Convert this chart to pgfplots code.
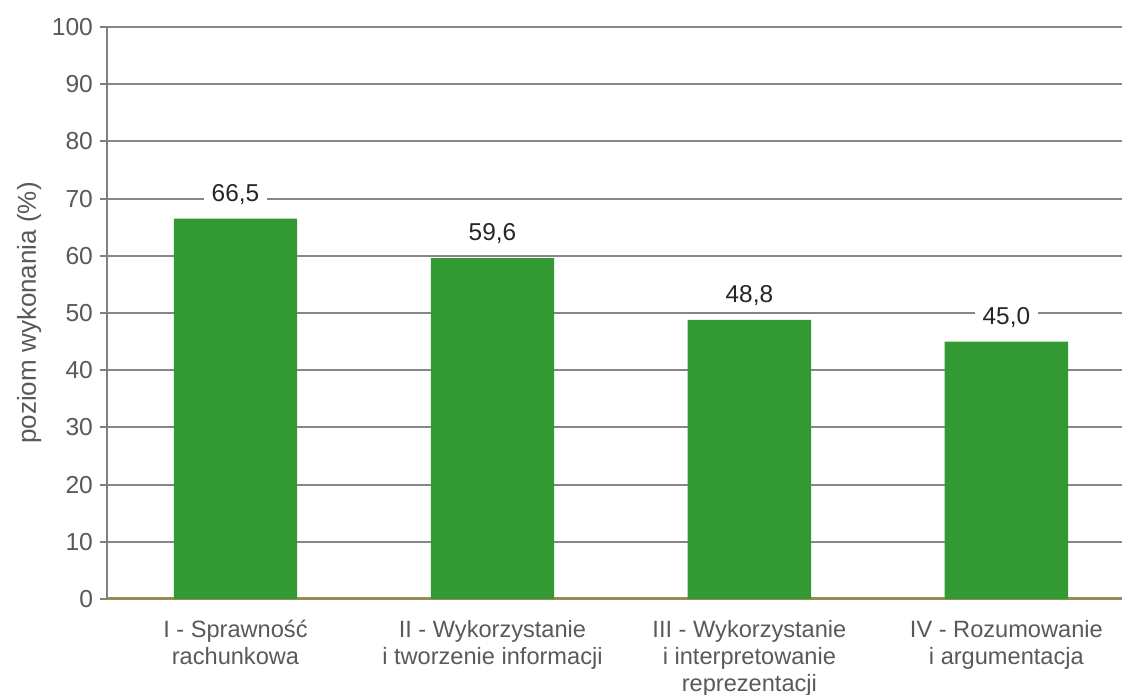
\documentclass[border=0pt]{standalone}
\usepackage{pgfplots}
\pgfplotsset{compat=1.18}
\usepackage{fontspec}
\setmainfont{Liberation Sans}
\definecolor{bargreen}{RGB}{51,153,51}
\definecolor{axisolive}{RGB}{152,141,80}
\definecolor{gridgray}{RGB}{134,134,134}
\definecolor{axisgray}{RGB}{128,128,128}
\definecolor{textgray}{RGB}{89,89,89}
\definecolor{valtext}{RGB}{38,38,38}
\begin{document}
\begin{tikzpicture}
\begin{axis}[
  name=ax,
  scale only axis, width=507.5pt, height=286pt,
  xmin=-0.5, xmax=3.45, ymin=0, ymax=100,
  ybar, bar width=0.48, bar shift=0pt,
  axis x line=bottom, axis y line=left,
  axis line style={-},
  x axis line style={draw=axisolive, line width=1.5pt},
  y axis line style={draw=axisgray, line width=1.4pt},
  ytick={0,10,...,100},
  xtick={0,1,2,3},
  xticklabels={{I - Sprawność\\rachunkowa},{II - Wykorzystanie\\i tworzenie informacji},{III - Wykorzystanie\\i interpretowanie\\reprezentacji},{IV - Rozumowanie\\i argumentacja}},
  xticklabel style={align=center, text=textgray, font=\fontsize{11.8}{13.5}\selectfont, anchor=north, yshift=-3.5pt},
  yticklabel style={text=textgray, font=\fontsize{12.3}{14}\selectfont},
  /pgf/number format/assume math mode=true,
  xtick style={draw=none},
  ytick style={draw=axisgray, line width=1pt},
  tick align=outside, major tick length=3.5pt,
  ymajorgrids, major grid style={draw=gridgray, line width=1pt},
  ylabel={poziom wykonania (\%)},
  ylabel style={text=textgray, font=\fontsize{13}{15}\selectfont, yshift=-1.5pt},
  nodes near coords,
  nodes near coords style={fill=white, text=valtext, font=\fontsize{12.2}{14}\selectfont, inner xsep=4pt, inner ysep=0.5pt, anchor=south, yshift=6.5pt,
    /pgf/number format/.cd, fixed, fixed zerofill, precision=1, use comma, assume math mode=true},
]
\addplot[fill=bargreen, draw=none] coordinates {(0,66.5) (1,59.6) (2,48.8) (3,45.0)};
\end{axis}
\pgfresetboundingbox
\path ([xshift=-53.5pt, yshift=13.5pt]ax.north west) rectangle ([xshift=1pt, yshift=-48pt]ax.south east);
\end{tikzpicture}
\end{document}
